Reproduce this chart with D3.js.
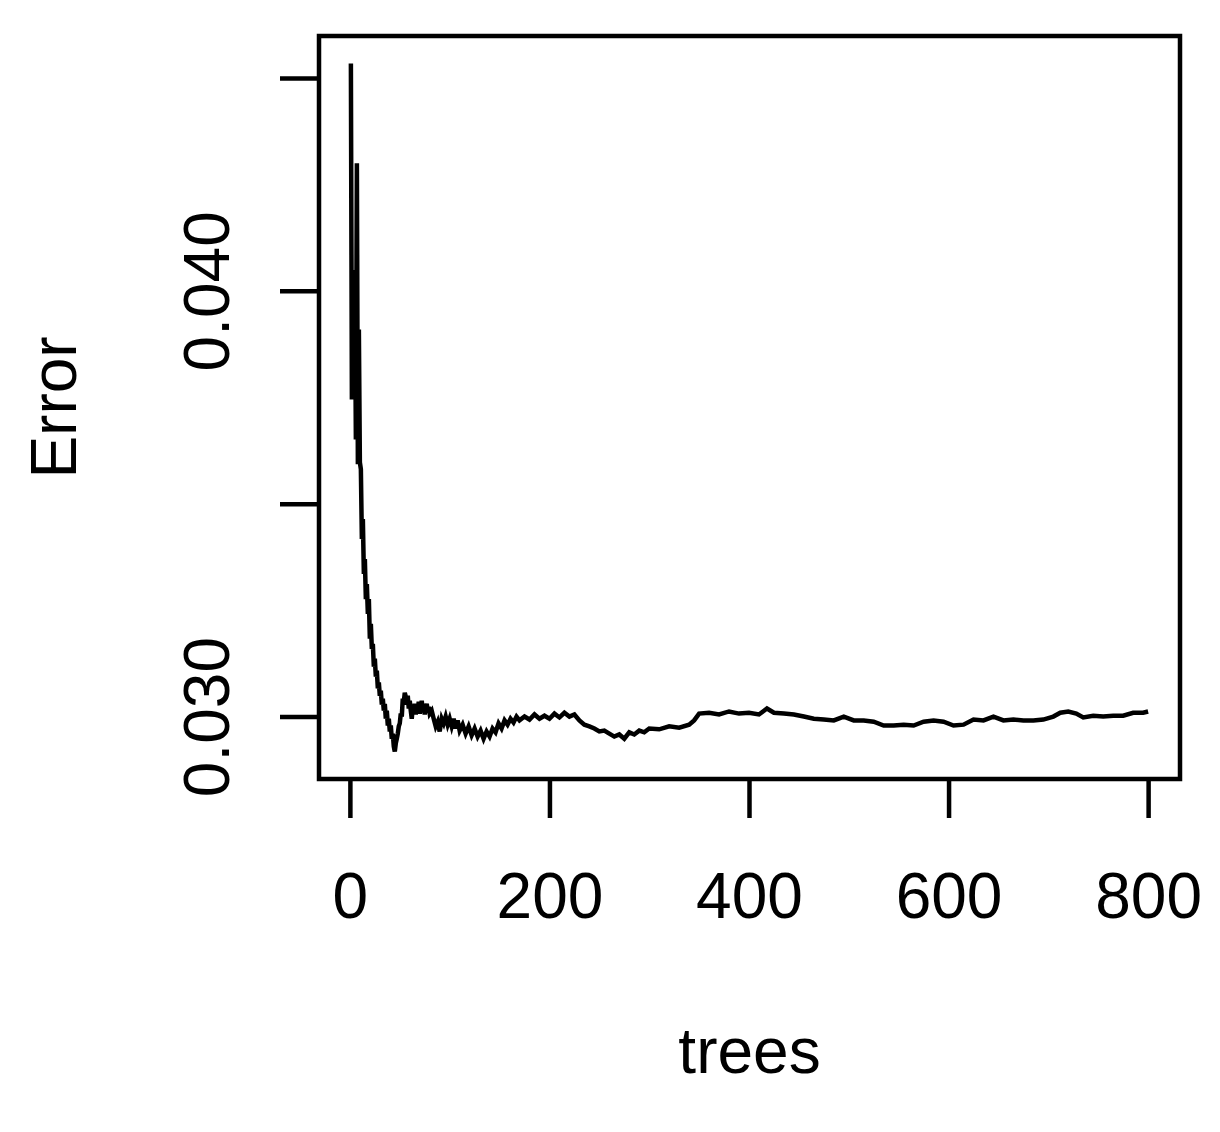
<!DOCTYPE html>
<html>
<head>
<meta charset="utf-8">
<script src="https://d3js.org/d3.v7.min.js"></script>
<style>
    body { margin: 0; background: #fff; }
    svg text { font-family: "Liberation Sans", Arial, sans-serif; fill: #000; }
</style>
</head>
<body>
<svg id="plot" width="1220" height="1132"></svg>
<script>
// OOB error rate vs number of trees
var trees = [1, 2, 3, 4, 5, 6, 7, 8, 9, 10, 11, 12, 13, 14, 15, 16, 17, 18, 19, 20,
    21, 22, 23, 24, 25, 26, 27, 28, 29, 30, 31, 32, 33, 34, 35, 36, 37, 38, 39, 40,
    41, 42, 43, 44, 45, 46, 47, 48, 49, 50, 51, 52, 53, 54, 55, 56, 57, 58, 59, 60,
    61, 62, 63, 64, 65, 66, 67, 68, 69, 70, 71, 72, 73, 74, 75, 76, 77, 78, 79, 80,
    82, 84, 86, 88, 90, 92, 94, 96, 98, 100, 102, 104, 106, 108, 110, 113, 116, 119,
    122, 125, 128, 131, 134, 137, 140, 143, 146, 149, 152, 155, 158, 161, 164, 167,
    170, 175, 180, 185, 190, 195, 200, 205, 210, 215, 220, 225, 230, 235, 240, 245,
    250, 255, 260, 265, 270, 275, 280, 285, 290, 295, 300, 310, 320, 330, 340, 345,
    350, 360, 370, 380, 390, 400, 410, 418, 425, 435, 445, 455, 465, 475, 485, 495,
    505, 515, 525, 535, 545, 555, 565, 575, 585, 595, 605, 615, 625, 635, 645, 655,
    665, 675, 685, 695, 705, 712, 720, 728, 735, 745, 755, 765, 775, 785, 795, 800];

var errRate = [0.04534, 0.03745, 0.04049, 0.03756, 0.04026, 0.03651, 0.04300, 0.03593, 0.03909, 0.03597,
    0.03581, 0.03417, 0.03464, 0.03335, 0.03370, 0.03276, 0.03311, 0.03241, 0.03276, 0.03183,
    0.03218, 0.03159, 0.03171, 0.03117, 0.03136, 0.03094, 0.03108, 0.03066, 0.03080, 0.03049,
    0.03061, 0.03028, 0.03042, 0.03014, 0.03030, 0.02995, 0.03014, 0.02979, 0.02995, 0.02965,
    0.02979, 0.02948, 0.02960, 0.02930, 0.02918, 0.02937, 0.02948, 0.02960, 0.02977, 0.02984,
    0.03007, 0.03000, 0.03042, 0.03033, 0.03056, 0.03047, 0.03028, 0.03049, 0.03019, 0.03037,
    0.03014, 0.02995, 0.03023, 0.03009, 0.03030, 0.03005, 0.03023, 0.03014, 0.03035, 0.03007,
    0.03019, 0.03037, 0.03014, 0.03028, 0.03005, 0.03019, 0.03030, 0.03014, 0.03023, 0.03007,
    0.03014, 0.02995, 0.02977, 0.02988, 0.02965, 0.02995, 0.02984, 0.03000, 0.02981, 0.02995,
    0.02977, 0.02995, 0.02972, 0.02991, 0.02967, 0.02981, 0.02960, 0.02977,
    0.02956, 0.02972, 0.02953, 0.02967, 0.02948, 0.02965, 0.02953, 0.02972, 0.02963, 0.02984,
    0.02972, 0.02991, 0.02981, 0.02995, 0.02986, 0.03000,
    0.02991, 0.03000, 0.02993, 0.03005, 0.02995, 0.03002, 0.02995, 0.03007, 0.02998, 0.03009,
    0.03000, 0.03005, 0.02991, 0.02981, 0.02977, 0.02972,
    0.02965, 0.02967, 0.02960, 0.02953, 0.02958, 0.02948, 0.02963, 0.02958, 0.02967, 0.02963,
    0.02972, 0.02970, 0.02977, 0.02974, 0.02981, 0.02991,
    0.03007, 0.03009, 0.03005, 0.03012, 0.03007, 0.03009, 0.03005, 0.03019, 0.03009, 0.03007,
    0.03005, 0.03000, 0.02995, 0.02993, 0.02991, 0.03000,
    0.02991, 0.02991, 0.02988, 0.02979, 0.02979, 0.02981, 0.02979, 0.02988, 0.02991, 0.02988,
    0.02979, 0.02981, 0.02993, 0.02991, 0.03000, 0.02991,
    0.02993, 0.02991, 0.02991, 0.02993, 0.03000, 0.03009, 0.03012, 0.03007, 0.02998, 0.03002,
    0.03000, 0.03002, 0.03002, 0.03009, 0.03009, 0.03012];

var xTicks = [0, 200, 400, 600, 800];
var yTicks = [0.030, 0.035, 0.040, 0.045];
var yLabels = ["0.030", "", "0.040", ""];

var svg = d3.select("#plot");
var box = {left: 319, right: 1180, top: 36, bottom: 779};

// R-style 4% padding of the data range
var xr = d3.extent(trees), yr = d3.extent(errRate);
var xPad = (xr[1] - xr[0]) * 0.04, yPad = (yr[1] - yr[0]) * 0.04;

var x = d3.scaleLinear().domain([xr[0] - xPad, xr[1] + xPad]).range([box.left, box.right]);
var y = d3.scaleLinear().domain([yr[0] - yPad, yr[1] + yPad]).range([box.bottom, box.top]);

var line = d3.line()
    .x(function(d, i) { return x(trees[i]); })
    .y(function(d) { return y(d); });

svg.append("path")
    .datum(errRate)
    .attr("d", line)
    .attr("fill", "none")
    .attr("stroke", "#000")
    .attr("stroke-width", 4.5)
    .attr("stroke-linejoin", "miter");

// x axis
var xAxis = svg.append("g")
    .attr("transform", "translate(0," + box.bottom + ")")
    .call(d3.axisBottom(x).tickValues(xTicks).tickSize(39).tickSizeOuter(0).tickFormat(d3.format("d")));
xAxis.select(".domain").remove();
xAxis.selectAll(".tick line").attr("stroke", "#000").attr("stroke-width", 4.5);
xAxis.selectAll(".tick text")
    .attr("y", 139).attr("dy", 0)
    .style("font-size", "64px");

// y axis
var yAxis = svg.append("g")
    .attr("transform", "translate(" + box.left + ",0)")
    .call(d3.axisLeft(y).tickValues(yTicks).tickSize(39).tickSizeOuter(0)
        .tickFormat(function(d, i) { return yLabels[i]; }));
yAxis.select(".domain").remove();
yAxis.selectAll(".tick line").attr("stroke", "#000").attr("stroke-width", 4.5);
yAxis.selectAll(".tick text")
    .attr("transform", "rotate(-90)")
    .attr("x", 0).attr("y", -90).attr("dy", 0)
    .attr("text-anchor", "middle")
    .style("font-size", "64px");

// frame
svg.append("rect")
    .attr("x", box.left).attr("y", box.top)
    .attr("width", box.right - box.left).attr("height", box.bottom - box.top)
    .attr("fill", "none").attr("stroke", "#000").attr("stroke-width", 4.5);

// axis titles
svg.append("text")
    .attr("x", (box.left + box.right) / 2).attr("y", 1073)
    .attr("text-anchor", "middle")
    .style("font-size", "64px")
    .text("trees");

svg.append("text")
    .attr("transform", "translate(76," + (box.top + box.bottom) / 2 + ") rotate(-90)")
    .attr("text-anchor", "middle")
    .style("font-size", "64px")
    .text("Error");
</script>
</body>
</html>
